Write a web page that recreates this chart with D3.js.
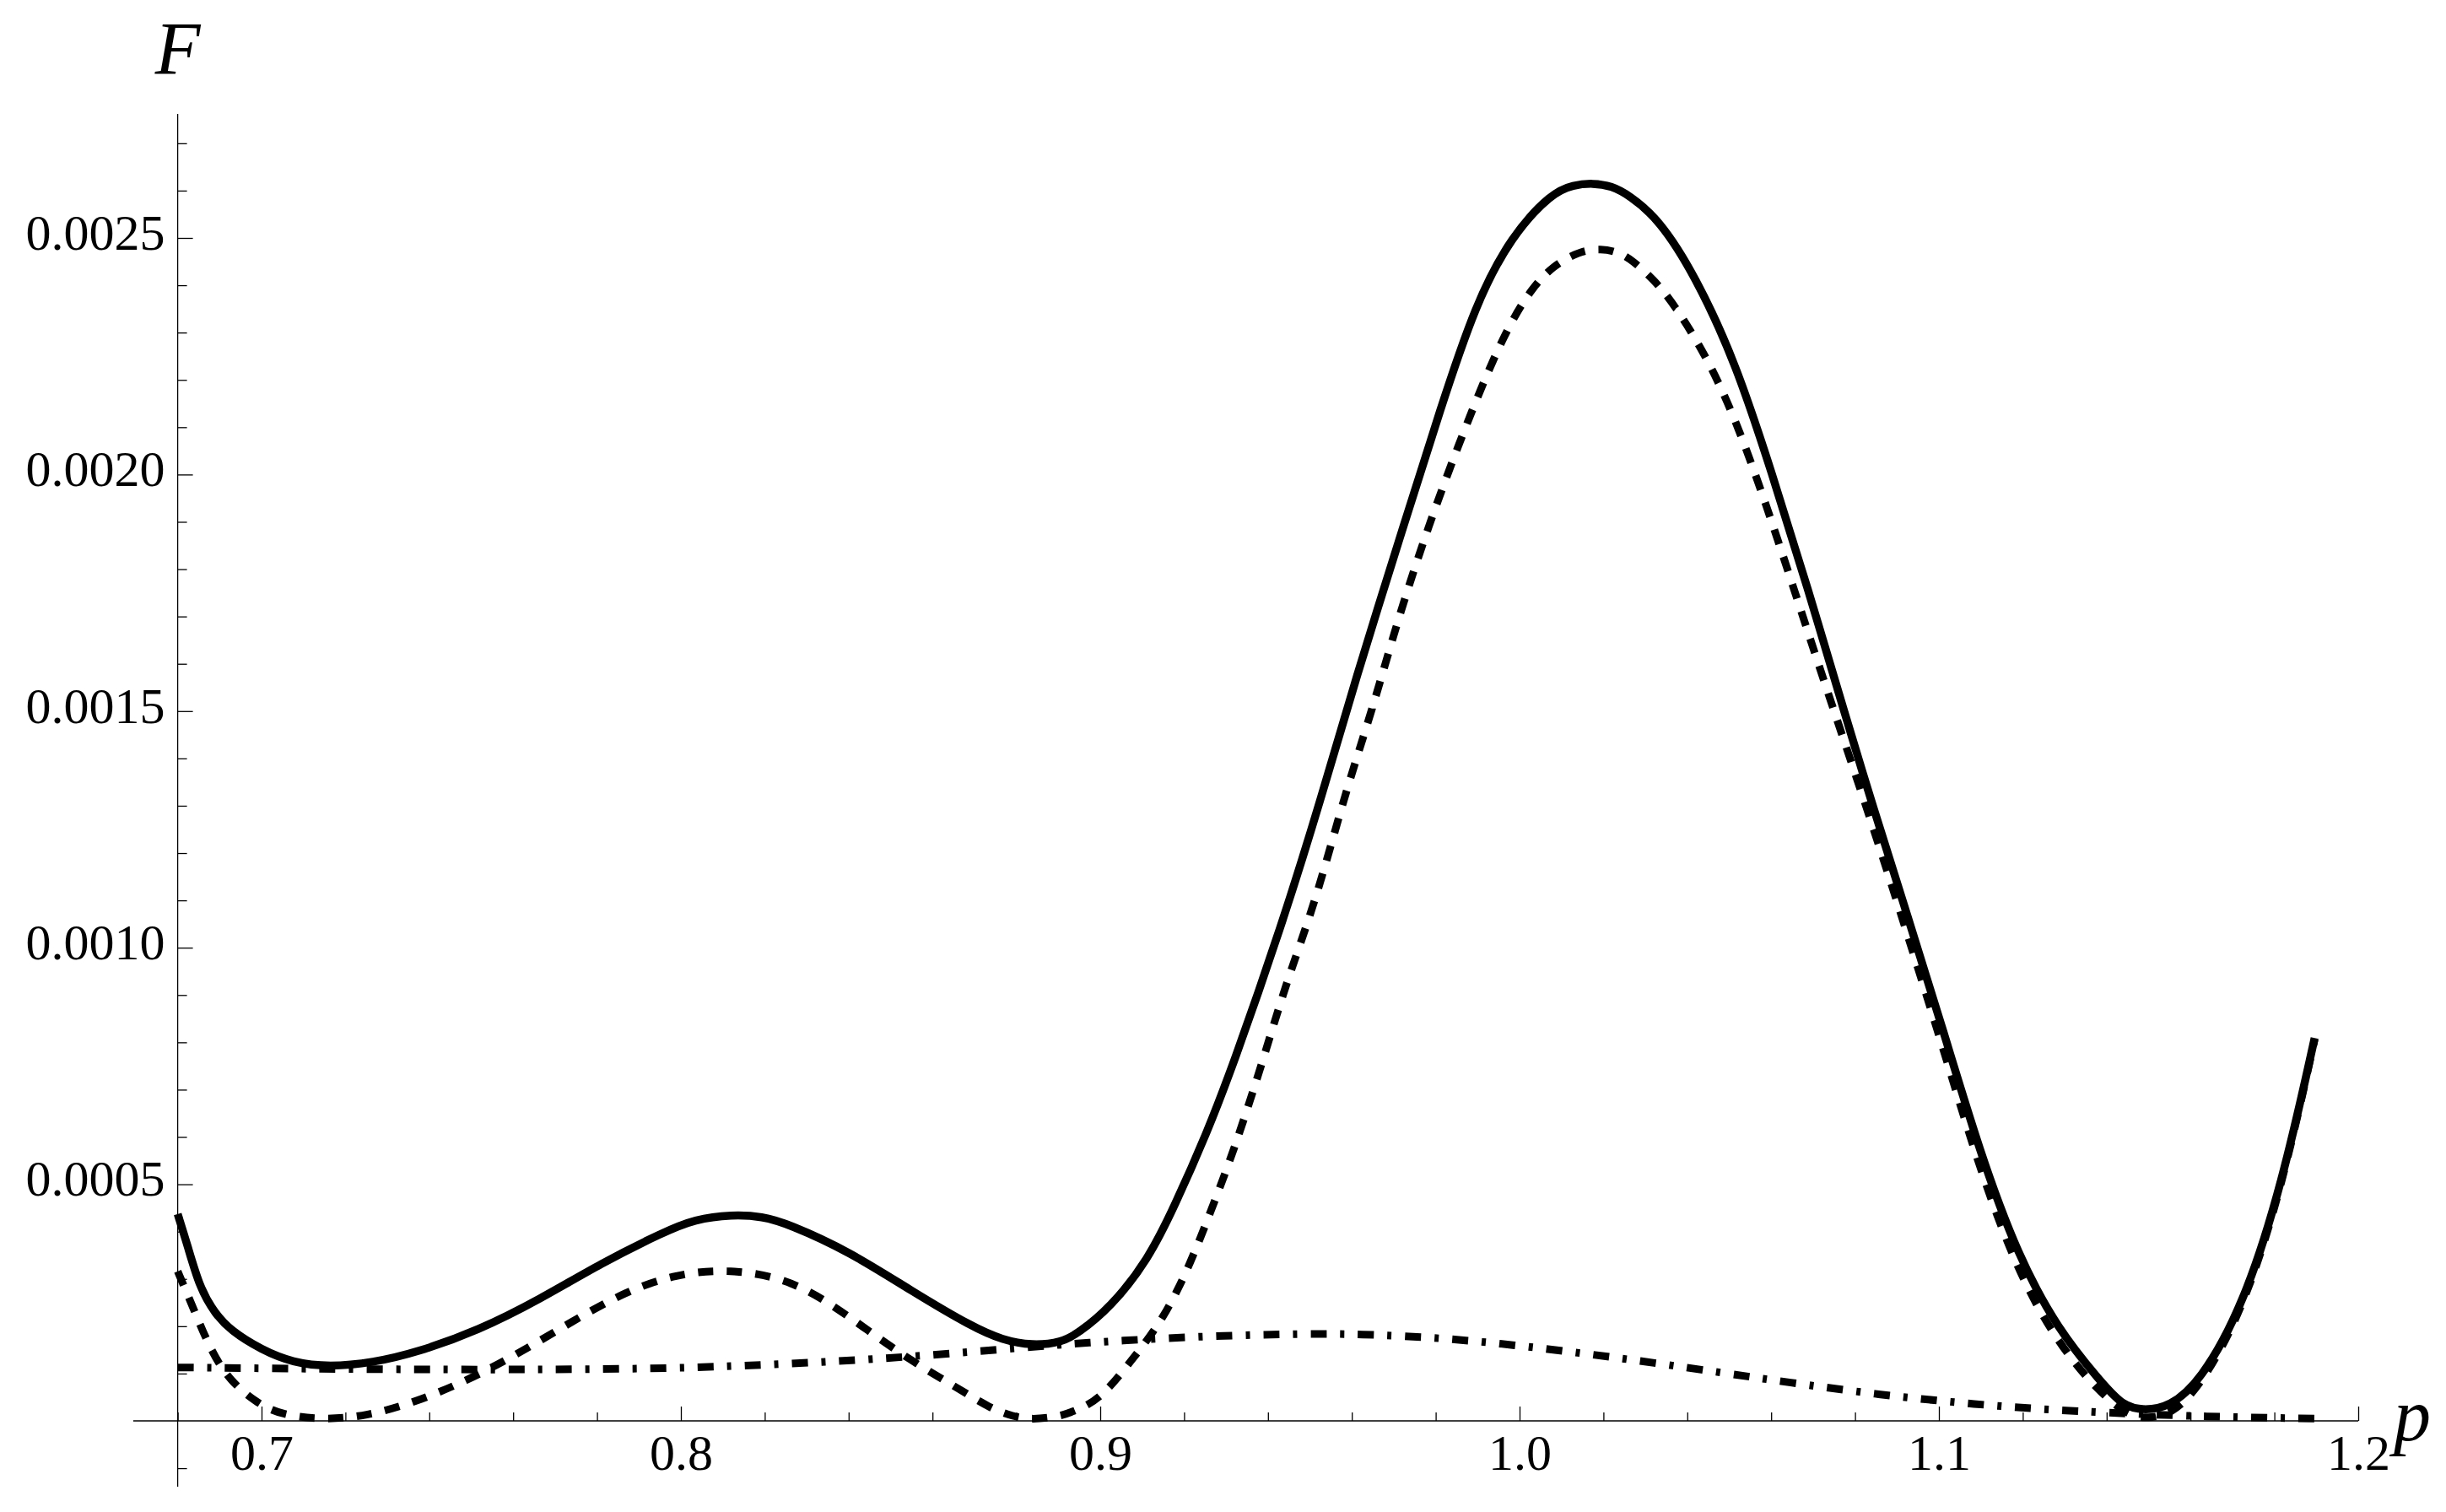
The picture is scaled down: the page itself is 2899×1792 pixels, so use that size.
<!DOCTYPE html>
<html>
<head>
<meta charset="utf-8">
<script src="https://cdn.jsdelivr.net/npm/d3@7"></script>
<style>
  html, body { margin: 0; padding: 0; background: #ffffff; }
  svg { display: block; background: #ffffff; }
</style>
</head>
<body>
<div class="chart"></div>
<script>
var WIDTH = 2899;
var HEIGHT = 1792;
var SERIF = "Liberation Serif, Times New Roman, Times, serif";

/* Curves: p on the horizontal axis, F up */
var solidP = [0.680, 0.6823, 0.6853, 0.6889, 0.6926, 0.7000, 0.7074, 0.7162,
  0.7266, 0.7368, 0.7517, 0.7664, 0.7811, 0.7959, 0.8033, 0.8122, 0.8195,
  0.8254, 0.8402, 0.8549, 0.8696, 0.8767, 0.8837, 0.8908, 0.8947, 0.9024,
  0.9114, 0.9177, 0.9255, 0.9314, 0.9432, 0.9525, 0.9606, 0.9726, 0.9811,
  0.9895, 0.9980, 1.0078, 1.0128, 1.0175, 1.0219, 1.0262, 1.0332, 1.0418,
  1.0516, 1.0601, 1.0686, 1.0778, 1.0841, 1.0926, 1.1010, 1.1097, 1.1189,
  1.1285, 1.1381, 1.1439, 1.1492, 1.1549, 1.1622, 1.1726, 1.1819, 1.1896];
var solidF = [0.000437, 0.000372, 0.000280, 0.000227, 0.000191, 0.000150,
  0.000123, 0.000114, 0.000123, 0.000144, 0.000191, 0.000257, 0.000334,
  0.000399, 0.000426, 0.000436, 0.000432, 0.000417, 0.000358, 0.000275,
  0.000198, 0.000171, 0.000159, 0.000166, 0.000185, 0.000239, 0.000340,
  0.000453, 0.000610, 0.000745, 0.001045, 0.001310, 0.001560, 0.001899,
  0.002138, 0.002361, 0.002504, 0.002596, 0.002612, 0.002616, 0.002610,
  0.002590, 0.002540, 0.002422, 0.002235, 0.002005, 0.001764, 0.001487,
  0.001303, 0.001065, 0.000826, 0.000569, 0.000347, 0.000192, 0.000088,
  0.000030, 0.000022, 0.000030, 0.000081, 0.000243, 0.000502, 0.000809];

var dashedP = [0.680, 0.6837, 0.6881, 0.6926, 0.6985, 0.7044, 0.7147, 0.7251,
  0.7368, 0.7487, 0.7605, 0.7738, 0.7871, 0.7989, 0.8107, 0.8239, 0.8343,
  0.8446, 0.8549, 0.8653, 0.8741, 0.8790, 0.8837, 0.8905, 0.8933, 0.8998,
  0.9074, 0.9152, 0.9216, 0.9268, 0.9319, 0.9387, 0.9444, 0.9514, 0.9585,
  0.9648, 0.9712, 0.9783, 0.9853, 0.9924, 0.9980, 1.0029, 1.0078, 1.0142,
  1.0195, 1.0235, 1.0269, 1.0319, 1.0368, 1.0446, 1.0516, 1.0587, 1.0658,
  1.0728, 1.0841, 1.0926, 1.1010, 1.1097, 1.1189, 1.1285, 1.1381, 1.1451,
  1.1497, 1.1554, 1.1622, 1.1726, 1.1819, 1.1896];
var dashedF = [0.000316, 0.000239, 0.000144, 0.000084, 0.000040, 0.000013,
  0.000002, 0.000010, 0.000040, 0.000084, 0.000138, 0.000209, 0.000275,
  0.000310, 0.000321, 0.000304, 0.000257, 0.000191, 0.000127, 0.000073,
  0.000025, 0.000010, 0.000002, 0.000010, 0.000019, 0.000043, 0.000127,
  0.000216, 0.000334, 0.000453, 0.000572, 0.000758, 0.000928, 0.001098,
  0.001330, 0.001500, 0.001701, 0.001892, 0.002060, 0.002218, 0.002324,
  0.002393, 0.002440, 0.002472, 0.002478, 0.002470, 0.002453, 0.002413,
  0.002361, 0.002250, 0.002115, 0.001940, 0.001748, 0.001557, 0.001262,
  0.001025, 0.000788, 0.000532, 0.000313, 0.000162, 0.000062, 0.000011,
  0.000005, 0.000014, 0.000070, 0.000235, 0.000496, 0.000806];

var dashDotP = [0.680, 0.7221, 0.7664, 0.8003, 0.8239, 0.8461, 0.8696, 0.8918,
  0.9036, 0.9268, 0.9492, 0.9608, 0.9832, 1.0062, 1.0288, 1.0512, 1.0628,
  1.0857, 1.1083, 1.1314, 1.1656, 1.1896];
var dashDotF = [0.000113, 0.000109, 0.000108, 0.000111, 0.000120, 0.000130,
  0.000146, 0.000162, 0.000169, 0.000180, 0.000184, 0.000184, 0.000175,
  0.000153, 0.000127, 0.000098, 0.000083, 0.000055, 0.000035, 0.000020,
  0.000008, 0.000005];

var xMajorTicks = [0.7, 0.8, 0.9, 1.0, 1.1, 1.2];
var yMajorTicks = [0.0005, 0.0010, 0.0015, 0.0020, 0.0025];

var xAxisExtent = [0.6694, 1.2];
var yAxisExtent = [-0.000139, 0.002762];

var X_TITLE = "p";
var Y_TITLE = "F";

/* minor ticks: every 0.02 in p, every 0.0001 in F */
var xMinorTicks = d3.range(34, 61).map(function (i) { return i / 50; })
  .filter(function (v) { return Math.abs(v * 10 - Math.round(v * 10)) > 1e-6; });
var yMinorTicks = d3.range(-1, 28).filter(function (i) { return i % 5 !== 0; })
  .map(function (i) { return i / 10000; });

var x = d3.scaleLinear().domain([0.68, 1.2]).range([210.6, 2795]);
var y = d3.scaleLinear().domain([0, 0.0025]).range([1684, 282]);

var svg = d3.select("div.chart")
  .append("svg")
  .attr("width", WIDTH)
  .attr("height", HEIGHT)
  .attr("viewBox", "0 0 " + WIDTH + " " + HEIGHT);

function styleAxis(g) {
  g.select(".domain").remove();
  g.attr("font-family", SERIF).attr("font-size", 60);
  g.selectAll("line").attr("stroke", "#000").attr("stroke-width", 1.3);
  g.selectAll("text").attr("fill", "#000");
}

/* x axis */
var xAxisG = svg.append("g").attr("transform", "translate(0," + y(0) + ")");
xAxisG.append("g")
  .call(d3.axisBottom(x).tickValues(xMinorTicks).tickSize(-10).tickFormat(""))
  .call(styleAxis);
xAxisG.append("g")
  .call(d3.axisBottom(x).tickValues(xMajorTicks).tickSize(-17).tickPadding(15)
    .tickFormat(d3.format(".1f")))
  .call(styleAxis);
xAxisG.append("line")
  .attr("x1", x(xAxisExtent[0])).attr("x2", x(xAxisExtent[1]))
  .attr("y1", 0).attr("y2", 0)
  .attr("stroke", "#000").attr("stroke-width", 1.3);

/* y axis */
var yAxisG = svg.append("g").attr("transform", "translate(" + x(0.68) + ",0)");
yAxisG.append("g")
  .call(d3.axisLeft(y).tickValues(yMinorTicks).tickSize(-11).tickFormat(""))
  .call(styleAxis);
yAxisG.append("g")
  .call(d3.axisLeft(y).tickValues(yMajorTicks).tickSize(-18).tickPadding(15)
    .tickFormat(d3.format(".4f")))
  .call(styleAxis)
  .selectAll("text").attr("dy", "0.22em");
yAxisG.append("line")
  .attr("x1", 0).attr("x2", 0)
  .attr("y1", y(yAxisExtent[0])).attr("y2", y(yAxisExtent[1]))
  .attr("stroke", "#000").attr("stroke-width", 1.3);

/* axis titles */
svg.append("text")
  .attr("x", x(0.68)).attr("y", 87)
  .attr("text-anchor", "middle")
  .attr("font-family", SERIF).attr("font-style", "italic").attr("font-size", 88)
  .text(Y_TITLE);
svg.append("text")
  .attr("x", x(1.2) + 42).attr("y", 1707)
  .attr("font-family", SERIF).attr("font-style", "italic").attr("font-size", 88)
  .text(X_TITLE);

/* curves: a B-spline through the read points smooths out reading noise */
var line = d3.line()
  .x(function (d) { return x(d[0]); })
  .y(function (d) { return y(d[1]); })
  .curve(d3.curveBasis);

var series = [
  { p: solidP, f: solidF, width: 9.5, dash: null },
  { p: dashedP, f: dashedF, width: 9, dash: "18,16" },
  { p: dashDotP, f: dashDotF, width: 9, dash: "19,16,5,16" }
];

series.forEach(function (s) {
  svg.append("path")
    .datum(d3.zip(s.p, s.f))
    .attr("d", line)
    .attr("fill", "none")
    .attr("stroke", "#000")
    .attr("stroke-width", s.width)
    .attr("stroke-linecap", "butt")
    .attr("stroke-linejoin", "round")
    .attr("stroke-dasharray", s.dash);
});
</script>
</body>
</html>
